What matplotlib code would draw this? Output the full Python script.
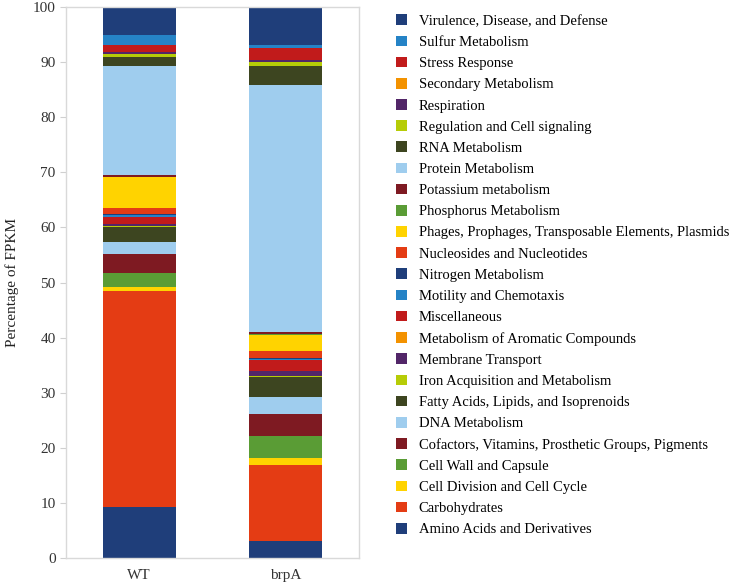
import matplotlib
matplotlib.use("Agg")
import matplotlib.pyplot as plt
from matplotlib.patches import Patch
import numpy as np

plt.rcParams['font.family'] = ['Liberation Serif', 'DejaVu Serif']

samples = ["WT", "brpA"]

categories = [
    "Amino Acids and Derivatives",
    "Carbohydrates",
    "Cell Division and Cell Cycle",
    "Cell Wall and Capsule",
    "Cofactors, Vitamins, Prosthetic Groups, Pigments",
    "DNA Metabolism",
    "Fatty Acids, Lipids, and Isoprenoids",
    "Iron Acquisition and Metabolism",
    "Membrane Transport",
    "Metabolism of Aromatic Compounds",
    "Miscellaneous",
    "Motility and Chemotaxis",
    "Nitrogen Metabolism",
    "Nucleosides and Nucleotides",
    "Phages, Prophages, Transposable Elements, Plasmids",
    "Phosphorus Metabolism",
    "Potassium metabolism",
    "Protein Metabolism",
    "RNA Metabolism",
    "Regulation and Cell signaling",
    "Respiration",
    "Secondary Metabolism",
    "Stress Response",
    "Sulfur Metabolism",
    "Virulence, Disease, and Defense",
]

wt_values = [9.2, 39.3, 0.6, 2.6, 3.5, 2.1, 2.7, 0.25, 0.4, 0.05, 1.1, 0.5, 0.05,
             1.1, 5.7, 0.05, 0.4, 19.7, 1.6, 0.6, 0.3, 0.05, 1.2, 1.9, 5.1]
brpa_values = [3.0, 13.9, 1.2, 4.0, 4.0, 3.1, 3.6, 0.25, 0.9, 0.05, 1.9, 0.3, 0.05,
               1.4, 2.9, 0.05, 0.5, 44.7, 3.5, 0.8, 0.25, 0.05, 2.1, 0.6, 6.9]

palette = ["#1f3e7a", "#e43c14", "#ffd300", "#5a9c35", "#7e1a22", "#9fcdee",
           "#3d4520", "#b6cc07", "#522668", "#f39200", "#c11b1b", "#2583c6"]
colors = [palette[i % len(palette)] for i in range(len(categories))]

fig = plt.figure(figsize=(7.35, 5.83), dpi=100)
ax = fig.add_axes([66/735, 25/583, (359-66)/735, (558-7)/583])

data = np.array([wt_values, brpa_values])
x = np.arange(len(samples))
bottom = np.zeros(len(samples))
for i, cat in enumerate(categories):
    ax.bar(x, data[:, i], 0.5, bottom=bottom, color=colors[i], label=cat,
           edgecolor='none', linewidth=0)
    bottom += data[:, i]

ax.set_xlim(-0.5, 1.5)
ax.set_ylim(0, 100)
ax.set_yticks(np.arange(0, 101, 10))
ax.set_xticks(x)
ax.set_xticklabels(samples, fontsize=11, color="#333333")
ax.tick_params(axis='y', labelsize=11, colors="#333333", length=4, color="#d0d0d0")
ax.tick_params(axis='x', length=0, pad=8)
for s in ax.spines.values():
    s.set_color("#d9d9d9")
    s.set_linewidth(1.0)
ax.set_ylabel("Percentage of FPKM", fontsize=11, color="#222222", labelpad=10)

handles = [Patch(facecolor=colors[i], edgecolor='none', label=categories[i])
           for i in range(len(categories))][::-1]
fig.legend(handles=handles, loc='upper left', bbox_to_anchor=(396/735, 1 - 14.5/583),
           frameon=False, fontsize=10.5, handlelength=0.75, handleheight=0.75,
           handletextpad=0.8, labelspacing=0.53, borderaxespad=0, borderpad=0)

fig.savefig("out.png", dpi=100)
